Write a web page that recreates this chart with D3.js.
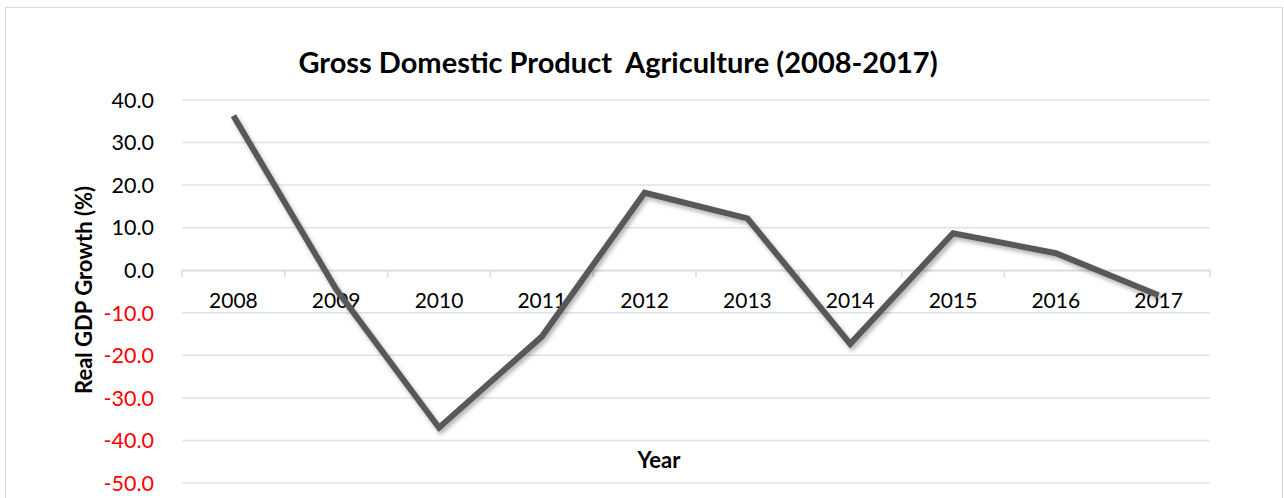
<!DOCTYPE html>
<html lang="en">
<head>
<meta charset="UTF-8">
<title>Gross Domestic Product Agriculture</title>
<script src="https://d3js.org/d3.v7.min.js"></script>
<style>
  body { margin: 0; background: #fff; font-family: Lato, 'Open Sans', sans-serif; }
</style>
</head>
<body>
<script>
  const years = ["2008", "2009", "2010", "2011", "2012", "2013", "2014", "2015", "2016", "2017"];
  const growth = [36.3, -4.5, -37.0, -15.6, 18.2, 12.2, -17.3, 8.7, 4.0, -5.9];
  const yTicks = [40, 30, 20, 10, 0, -10, -20, -30, -40, -50];

  const width = 1284, height = 498;
  const margin = { left: 182, right: 74, top: 100, bottom: 15 };

  const svg = d3.select("body").append("svg")
      .attr("width", width)
      .attr("height", height);

  const defs = svg.append("defs");
  const shadow = defs.append("filter").attr("id", "shadow")
      .attr("x", "-5%").attr("y", "-5%").attr("width", "110%").attr("height", "120%");
  shadow.append("feDropShadow")
      .attr("dx", 2).attr("dy", 3).attr("stdDeviation", 2)
      .attr("flood-color", "#000").attr("flood-opacity", 0.3);

  // chart border
  svg.append("rect")
      .attr("x", 5.5).attr("y", 7.5)
      .attr("width", 1277).attr("height", 500)
      .attr("fill", "none")
      .attr("stroke", "#d9d9d9");

  const x = d3.scaleBand().domain(years).range([margin.left, width - margin.right]);
  const y = d3.scaleLinear().domain([-50, 40]).range([483, 100]);

  // gridlines
  svg.append("g")
    .selectAll("line")
    .data(yTicks)
    .join("line")
      .attr("x1", x.range()[0]).attr("x2", x.range()[1])
      .attr("y1", d => y(d)).attr("y2", d => y(d))
      .attr("stroke", "#dde3ea")
      .attr("stroke-width", 1.5);

  // y tick labels
  svg.append("g")
    .selectAll("text")
    .data(yTicks)
    .join("text")
      .attr("x", 154)
      .attr("y", d => y(d))
      .attr("dy", "0.36em")
      .attr("text-anchor", "end")
      .attr("font-size", 21.5)
      .attr("fill", d => d < 0 ? "#ff0000" : "#000")
      .text(d => d.toFixed(1));

  // category axis at zero
  const xAxis = d3.axisBottom(x).tickSize(0).tickFormat("");
  const axisG = svg.append("g")
      .attr("transform", `translate(0,${y(0)})`)
      .call(xAxis);
  axisG.select(".domain").attr("stroke", "#d6dce4").attr("stroke-width", 1.5);

  const bounds = years.map(d => x(d)).concat([x.range()[1]]);
  axisG.selectAll(".bound")
    .data(bounds)
    .join("line")
      .attr("class", "bound")
      .attr("x1", d => d).attr("x2", d => d)
      .attr("y1", 0).attr("y2", 7)
      .attr("stroke", "#d6dce4")
      .attr("stroke-width", 1.5);

  svg.append("g")
    .selectAll("text")
    .data(years)
    .join("text")
      .attr("x", d => x(d) + x.bandwidth() / 2)
      .attr("y", y(0) + 38)
      .attr("text-anchor", "middle")
      .attr("font-size", 21)
      .attr("fill", "#000")
      .text(d => d);

  // line
  const line = d3.line()
      .x((d, i) => x(years[i]) + x.bandwidth() / 2)
      .y(d => y(d));

  svg.append("path")
      .datum(growth)
      .attr("d", line)
      .attr("fill", "none")
      .attr("stroke", "#595959")
      .attr("stroke-width", 6)
      .attr("stroke-linejoin", "miter")
      .attr("filter", "url(#shadow)");

  // title
  svg.append("text")
      .attr("x", 618)
      .attr("y", 73)
      .attr("text-anchor", "middle")
      .attr("font-size", 29)
      .attr("font-weight", "bold")
      .attr("xml:space", "preserve")
      .style("white-space", "pre")
      .text("Gross Domestic Product  Agriculture (2008-2017)");

  // axis titles
  svg.append("text")
      .attr("transform", "translate(92,290) rotate(-90)")
      .attr("text-anchor", "middle")
      .attr("font-size", 22)
      .attr("font-weight", "bold")
      .text("Real GDP Growth (%)");

  svg.append("text")
      .attr("x", 659)
      .attr("y", 468)
      .attr("text-anchor", "middle")
      .attr("font-size", 22)
      .attr("font-weight", "bold")
      .text("Year");
</script>
</body>
</html>
